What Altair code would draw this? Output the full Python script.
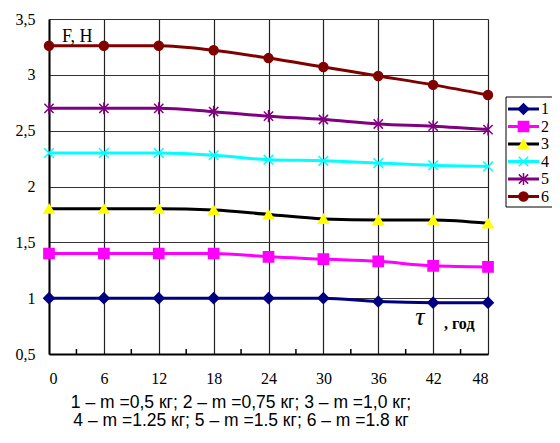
import altair as alt
import pandas as pd

tau = [0, 6, 12, 18, 24, 30, 36, 42, 48]
series_names = ["1", "2", "3", "4", "5", "6"]
s1 = [1.00, 1.00, 1.00, 1.00, 1.00, 1.00, 0.97, 0.96, 0.96]
s2 = [1.40, 1.40, 1.40, 1.40, 1.37, 1.35, 1.33, 1.29, 1.28]
s3 = [1.80, 1.80, 1.80, 1.79, 1.75, 1.71, 1.70, 1.70, 1.67]
s4 = [2.30, 2.30, 2.30, 2.28, 2.24, 2.23, 2.21, 2.19, 2.18]
s5 = [2.70, 2.70, 2.70, 2.67, 2.63, 2.60, 2.56, 2.54, 2.51]
s6 = [3.26, 3.26, 3.26, 3.22, 3.15, 3.07, 2.99, 2.91, 2.82]
minor_ticks = [3, 9, 15, 21, 27, 33, 39, 45]
x_ticks = [0, 6, 12, 18, 24, 30, 36, 42, 48]
y_ticks = [0.5, 1, 1.5, 2, 2.5, 3, 3.5]
caption1 = "1 –  m =0,5 кг; 2 – m =0,75 кг; 3 – m =1,0 кг;"
caption2 = "4 – m =1.25 кг; 5 –  m =1.5 кг;  6 – m =1.8 кг"

line_colors = ["#000080", "#FF00FF", "#000000", "#00FFFF", "#800080", "#800000"]
marker_colors = ["#000080", "#FF00FF", "#FFFF00", "#00FFFF", "#800080", "#800000"]
X_PATH = "M-1,-1L1,1M-1,1L1,-1"
STAR_PATH = "M-1,-1L1,1M-1,1L1,-1M0,-1.3L0,1.3"
shapes = ["diamond", "square", "triangle-up", X_PATH, STAR_PATH, "circle"]
sizes = [110, 80, 150, 90, 90, 100]

rows = []
for name, vals in zip(series_names, [s1, s2, s3, s4, s5, s6]):
    for t, v in zip(tau, vals):
        rows.append({"tau": t, "F": v, "series": name})
df = pd.DataFrame(rows)

leg_df = pd.DataFrame({"series": series_names, "row": list(range(6))})

serif = "Liberation Serif"
xs = alt.Scale(domain=[0, 48], nice=False)
ys = alt.Scale(domain=[0.5, 3.5], nice=False)

color_scale = alt.Scale(domain=series_names, range=line_colors)
marker_scale = alt.Scale(domain=series_names, range=marker_colors)
shape_scale = alt.Scale(domain=series_names, range=shapes)
size_scale = alt.Scale(domain=series_names, range=sizes)

base = alt.Chart(df)

lines = base.mark_line(strokeWidth=3, interpolate="monotone").encode(
    x=alt.X("tau:Q", scale=xs,
            axis=alt.Axis(values=x_ticks, title=None, grid=True, ticks=False,
                          labelFont=serif, labelFontSize=16, labelColor="black",
                          labelPadding=16, domainColor="black", domainWidth=2,
                          gridColor="#222", gridWidth=1.2)),
    y=alt.Y("F:Q", scale=ys,
            axis=alt.Axis(values=y_ticks, title=None, grid=True, ticks=False,
                          labelFont=serif, labelFontSize=16, labelColor="black",
                          labelPadding=14, domainColor="black", domainWidth=2,
                          gridColor="#333", gridWidth=1.2,
                          labelExpr="replace(format(datum.value, '~g'), '.', ',')")),
    color=alt.Color("series:N", scale=color_scale, legend=None),
    detail="series:N",
)

points = base.mark_point(opacity=1, fillOpacity=1, strokeWidth=1.5).encode(
    x=alt.X("tau:Q", scale=xs),
    y=alt.Y("F:Q", scale=ys),
    fill=alt.Fill("series:N", scale=marker_scale, legend=None),
    stroke=alt.Stroke("series:N", scale=marker_scale, legend=None),
    shape=alt.Shape("series:N", scale=shape_scale, legend=None),
    size=alt.Size("series:N", scale=size_scale, legend=None),
)

minor = alt.Chart(pd.DataFrame({"t": minor_ticks})).mark_rule(
    color="black", strokeWidth=1.5
).encode(
    x=alt.X("t:Q", scale=xs),
    y=alt.value(335),
    y2=alt.value(330),
)

label_F = alt.Chart(pd.DataFrame({"t": ["F, H"]})).mark_text(
    font=serif, fontSize=18, align="left", baseline="middle", color="black"
).encode(x=alt.value(13), y=alt.value(18), text="t:N")

label_tau = alt.Chart(pd.DataFrame({"t": ["τ"]})).mark_text(
    font=serif, fontSize=26, fontStyle="italic", align="center",
    baseline="middle", color="black"
).encode(x=alt.value(371), y=alt.value(298), text="t:N")

label_god = alt.Chart(pd.DataFrame({"t": [", год"]})).mark_text(
    font=serif, fontSize=16, fontWeight="bold", align="left",
    baseline="middle", color="black"
).encode(x=alt.value(395), y=alt.value(305), text="t:N")

cap = alt.Chart(pd.DataFrame({"t": [caption1, caption2], "i": [0, 1]})).transform_calculate(
    py="384 + 18 * datum.i"
).mark_text(
    font="Liberation Sans", fontSize=17.5, align="center", baseline="middle", color="black"
).encode(x=alt.value(192), y=alt.Y("py:Q", scale=None), text="t:N")

leg_box = alt.Chart(pd.DataFrame({"a": [0]})).mark_rect(
    fill="white", stroke="black", strokeWidth=1
).encode(x=alt.value(457), x2=alt.value(600), y=alt.value(78), y2=alt.value(188))

leg_base = alt.Chart(leg_df).transform_calculate(py="90 + 17.5 * datum.row")

leg_lines = leg_base.mark_rule(strokeWidth=3).encode(
    x=alt.value(459), x2=alt.value(490),
    y=alt.Y("py:Q", scale=None),
    color=alt.Color("series:N", scale=color_scale, legend=None),
)
leg_pts = leg_base.mark_point(opacity=1, fillOpacity=1, strokeWidth=1.5).encode(
    x=alt.value(474.5),
    y=alt.Y("py:Q", scale=None),
    fill=alt.Fill("series:N", scale=marker_scale, legend=None),
    stroke=alt.Stroke("series:N", scale=marker_scale, legend=None),
    shape=alt.Shape("series:N", scale=shape_scale, legend=None),
    size=alt.Size("series:N", scale=size_scale, legend=None),
)
leg_txt = leg_base.mark_text(
    font=serif, fontSize=16, align="left", baseline="middle", color="black"
).encode(x=alt.value(492), y=alt.Y("py:Q", scale=None), text="series:N")

chart = alt.layer(
    lines, points, minor, label_F, label_tau, label_god, cap,
    leg_box, leg_lines, leg_pts, leg_txt
).properties(
    width=439, height=335,
    autosize=alt.AutoSizeParams(type="none"),
    padding={"left": 41, "top": 11, "right": 64, "bottom": 78},
).configure_view(
    stroke="#a0a0a0", strokeWidth=1.5
).configure(background="white")

chart.save("out.html", embed_options={"renderer": "svg", "actions": False})
